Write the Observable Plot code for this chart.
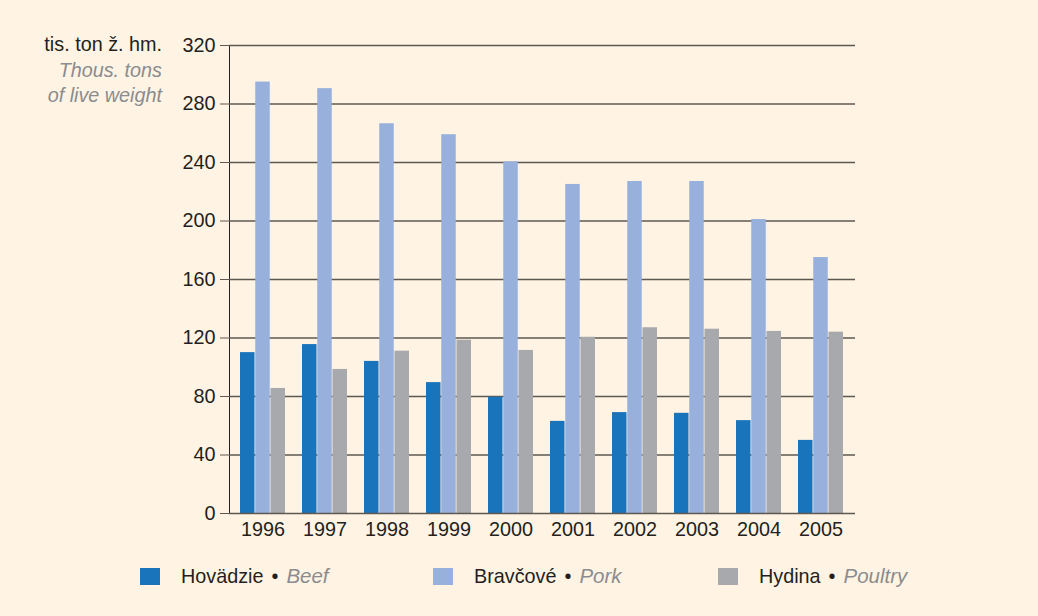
<!DOCTYPE html>
<html><head><meta charset="utf-8">
<script src="https://cdn.jsdelivr.net/npm/d3@7"></script>
<script src="https://cdn.jsdelivr.net/npm/@observablehq/plot@0.6"></script>
<style>
html,body{margin:0;padding:0;background:#fff3e3;}
#wrap{position:relative;width:1038px;height:616px;background:#fff3e3;font-family:"Liberation Sans",Arial,Helvetica,sans-serif;color:#231f20;overflow:hidden;}
#chart{position:absolute;left:0;top:0;}
#ytitle{position:absolute;left:0;width:162px;top:32px;text-align:right;font-size:19.8px;line-height:25.5px;}
.it{font-style:italic;color:#8a8c8f;}
.leg{position:absolute;top:566px;height:20px;font-size:19.8px;line-height:20px;white-space:nowrap;word-spacing:2.5px;}
.leg .it{font-size:20.5px;}
.sw{position:absolute;left:0;top:2px;width:20px;height:17px;}
.lt{position:absolute;left:41px;top:0;}
svg g[aria-label^="y-axis"] path, svg g[aria-label^="y-axis"] line{stroke:#5e5852;}
</style>
</head><body>
<div id="wrap">
  <div id="chart"></div>
  <div id="ytitle">tis. ton ž. hm.<br><span class="it">Thous. tons</span><br><span class="it">of live weight</span></div>
  <div id="legend"></div>
</div>
<script>
const years = ["1996","1997","1998","1999","2000","2001","2002","2003","2004","2005"];
const beef =    [110, 115.5, 104, 89.5, 79.5, 63, 69, 68.5, 63.5, 50];
const pork =    [295, 290.5, 266.5, 259, 240.5, 225, 227, 227, 201, 175];
const poultry = [85.5, 98.5, 111, 118.5, 111.5, 120.5, 127, 126, 124.5, 124];
const seriesSk = ["Hovädzie", "Bravčové", "Hydina"];
const seriesEn = ["Beef", "Pork", "Poultry"];
const colors = ["#1a74bb", "#97b0dc", "#a8a9ad"];
const yTicks = [0, 40, 80, 120, 160, 200, 240, 280, 320];

const seriesValues = [beef, pork, poultry];
const rows = [];
seriesValues.forEach((vals, si) => vals.forEach((v, i) => rows.push({year: years[i], series: si, value: v})));

const W = 1038, H = 560;
const mL = 229, mR = 183, mT = 45, mB = 47;
const pIn = 0.27, pOut = 0.13;
const step = (W - mL - mR) / (years.length - pIn + 2 * pOut);
const bw = step * (1 - pIn);
const third = bw / 3;

const marks = [
  Plot.ruleY(yTicks.filter(t => t > 0), {stroke: "#5e5852", strokeWidth: 1.3}),
];
seriesValues.forEach((_, si) => {
  marks.push(Plot.barY(rows.filter(r => r.series === si), {
    x: "year", y: "value", fill: colors[si],
    insetLeft: si * third, insetRight: (2 - si) * third
  }));
});
marks.push(Plot.ruleY([0], {stroke: "#5e5852", strokeWidth: 1.3}));

const chart = Plot.plot({
  width: W, height: H,
  marginLeft: mL, marginRight: mR, marginTop: mT, marginBottom: mB,
  style: {background: "transparent", fontSize: "19.8px", fontFamily: "'Liberation Sans', Arial, sans-serif", color: "#231f20", overflow: "visible"},
  x: {domain: years, paddingInner: pIn, paddingOuter: pOut, align: 0.5, tickSize: 0, tickPadding: 8, label: null},
  y: {domain: [0, 320], ticks: yTicks, tickSize: 9, tickPadding: 5, label: null, line: true},
  marks
});
document.getElementById("chart").appendChild(chart);

const legLeft = [140, 433, 718];
const leg = document.getElementById("legend");
seriesSk.forEach((s, i) => {
  const d = document.createElement("div");
  d.className = "leg";
  d.style.left = legLeft[i] + "px";
  d.innerHTML = `<div class="sw" style="background:${colors[i]}"></div><div class="lt">${s} • <span class="it">${seriesEn[i]}</span></div>`;
  leg.appendChild(d);
});
</script>
</body></html>
